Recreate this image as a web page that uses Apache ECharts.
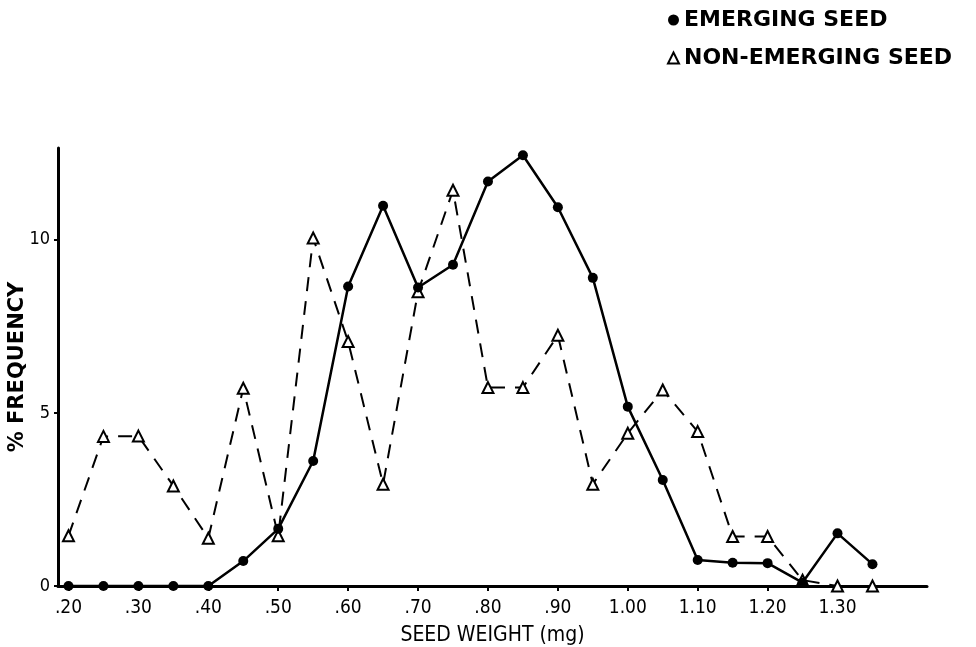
<!DOCTYPE html>
<html>
<head>
<meta charset="utf-8">
<script src="https://cdn.jsdelivr.net/npm/echarts@6/dist/echarts.min.js"></script>
<style>
html,body{margin:0;padding:0;background:#fff;}
#chart{width:976px;height:647px;}
</style>
</head>
<body>
<div id="chart"></div>
<script>
var seedWeights = [0.20,0.25,0.30,0.35,0.40,0.45,0.50,0.55,0.60,0.65,0.70,0.75,0.80,0.85,0.90,0.95,1.00,1.05,1.10,1.15,1.20,1.25,1.30,1.35];
var emerging = [0,0,0,0,0,0.72,1.65,3.61,8.65,10.98,8.62,9.28,11.68,12.44,10.94,8.9,5.18,3.06,0.75,0.67,0.66,0.1,1.52,0.63];
var nonEmerging = [1.45,4.32,4.33,2.89,1.38,5.71,1.45,10.05,7.06,2.94,8.5,11.43,5.73,5.73,7.24,2.94,4.41,5.66,4.46,1.43,1.43,0.17,0,0];
var xTicks = [0.20,0.30,0.40,0.50,0.60,0.70,0.80,0.90,1.00,1.10,1.20,1.30];
var yTicks = [0,5,10];

function pairs(xs, ys){ return xs.map(function(x,i){return [x, ys[i]];}); }
function fmtX(v){
  var s = (Math.round(v*100)/100).toFixed(2);
  return v < 1 ? s.substring(1) : s;
}

var chart = echarts.init(document.getElementById('chart'));
chart.setOption({
  backgroundColor:'#fff',
  animation:false,
  grid:{left:58, right:49, top:148, bottom:61, containLabel:false, outerBoundsMode:'none'},
  legend:{
    orient:'vertical', left:662, top:4, itemGap:16,
    itemWidth:11, itemHeight:11,
    textStyle:{fontFamily:'DejaVu Sans', fontWeight:'bold', fontSize:22, color:'#000'},
    data:[{name:'EMERGING SEED', icon:'circle'},{name:'NON-EMERGING SEED', icon:'triangle'}]
  },
  xAxis:{
    type:'value', min:0.185, max:1.428,
    name:'SEED WEIGHT (mg)', nameLocation:'middle', nameGap:39, nameMoveOverlap:false,
    nameTextStyle:{fontFamily:'DejaVu Sans Condensed', fontSize:21, color:'#000'},
    splitLine:{show:false},
    axisLine:{lineStyle:{color:'#000', width:3}},
    axisTick:{customValues:xTicks, length:5, lineStyle:{color:'#000', width:2}},
    axisLabel:{customValues:xTicks, formatter:fmtX, margin:13,
      fontFamily:'DejaVu Sans Condensed', fontSize:19, color:'#000'}
  },
  yAxis:{
    type:'value', min:0, max:12.65,
    name:'% FREQUENCY', nameLocation:'middle', nameGap:30, nameRotate:90, nameMoveOverlap:false,
    nameTextStyle:{fontFamily:'DejaVu Sans', fontWeight:'bold', fontSize:21, color:'#000'},
    splitLine:{show:false},
    axisLine:{show:true, lineStyle:{color:'#000', width:3}},
    axisTick:{show:true, customValues:yTicks, length:4, lineStyle:{color:'#000', width:2}},
    axisLabel:{customValues:yTicks, margin:8,
      fontFamily:'DejaVu Sans Condensed', fontSize:18, color:'#000'}
  },
  series:[
    {
      name:'NON-EMERGING SEED', type:'line', z:2,
      data:pairs(seedWeights, nonEmerging),
      symbol:'triangle', symbolSize:11, showAllSymbol:true,
      lineStyle:{color:'#000', width:2, type:[14,10]},
      itemStyle:{color:'#fff', borderColor:'#000', borderWidth:2}
    },
    {
      name:'EMERGING SEED', type:'line', z:3,
      data:pairs(seedWeights, emerging),
      symbol:'circle', symbolSize:10, showAllSymbol:true,
      lineStyle:{color:'#000', width:2.5},
      itemStyle:{color:'#000', borderColor:'#000', borderWidth:0}
    }
  ]
});
</script>
</body>
</html>
